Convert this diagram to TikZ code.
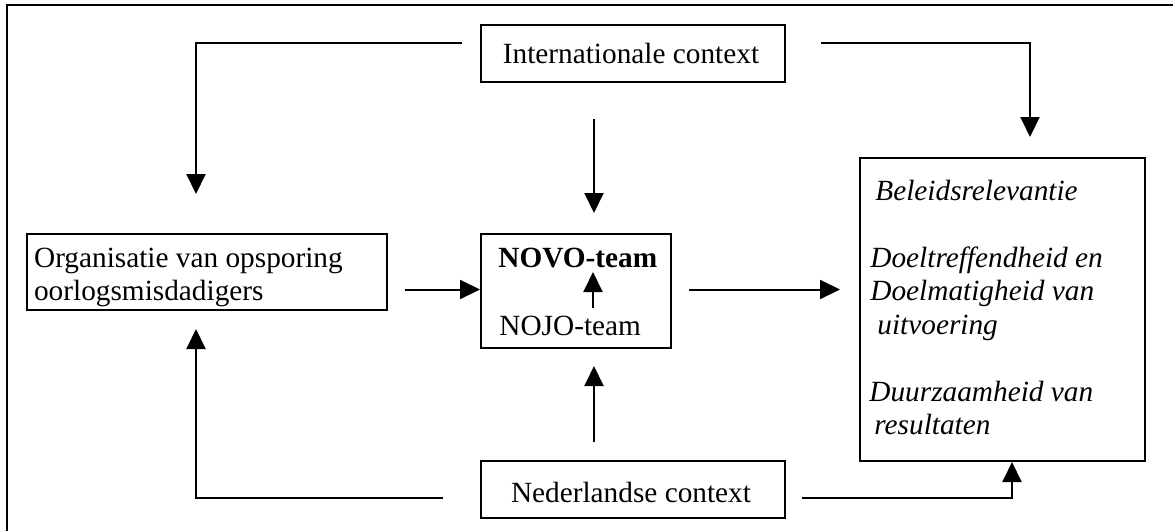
\documentclass[tikz,border=0pt]{standalone}
\usepackage{fontspec}
\setmainfont{Liberation Serif}
\usetikzlibrary{arrows.meta}
\begin{document}
\begin{tikzpicture}[x=0.5pt,y=-0.5pt,
  box/.style={draw, line width=1pt, inner sep=0pt, anchor=north west},
  txt/.style={inner sep=0pt, font=\fontsize{14.65pt}{16.75pt}\selectfont},
  arr/.style={line width=1pt, -{Triangle[length=10pt,width=9.5pt]}},
  ln/.style={line width=1pt}]
\useasboundingbox (0,0) rectangle (1173,531);
\fill[white] (0,0) rectangle (1173,531);
\draw[ln] (6.5,531) -- (6.5,5) -- (1173,5);

% boxes
\node[box, minimum width=152pt, minimum height=28.5pt] (int) at (480,24) {};
\node[box, minimum width=180.2pt, minimum height=38pt] (org) at (25.6,233) {};
\node[box, minimum width=95pt, minimum height=57pt] (novo) at (480,233) {};
\node[box, minimum width=152pt, minimum height=28.5pt] (ned) at (480,460) {};
\node[box, minimum width=142.5pt, minimum height=151.5pt] (res) at (859,157) {};

% texts
\node[txt, anchor=base] (tint) at (631,63) {Internationale context};
\node[txt, anchor=base] (tned) at (631,502) {Nederlandse context};
\node[txt, anchor=base west] (torg1) at (33.7,267) {Organisatie van opsporing};
\node[txt, anchor=base west] (torg2) at (33.7,300.5) {oorlogsmisdadigers};
\node[txt, anchor=base west, font=\fontsize{14.65pt}{16.75pt}\selectfont\bfseries] (tnovo) at (498,267) {NOVO-team};
\node[txt, anchor=base west] (tnojo) at (499,335) {NOJO-team};
\node[txt, anchor=base west, font=\fontsize{14.65pt}{16.75pt}\selectfont\itshape] (r1) at (875,200) {Beleidsrelevantie};
\node[txt, anchor=base west, font=\fontsize{14.65pt}{16.75pt}\selectfont\itshape] (r2) at (870,267) {Doeltreffendheid en};
\node[txt, anchor=base west, font=\fontsize{14.65pt}{16.75pt}\selectfont\itshape] (r3) at (870,300.5) {Doelmatigheid van};
\node[txt, anchor=base west, font=\fontsize{14.65pt}{16.75pt}\selectfont\itshape] (r4) at (877,334) {uitvoering};
\node[txt, anchor=base west, font=\fontsize{14.65pt}{16.75pt}\selectfont\itshape] (r5) at (869,401) {Duurzaamheid van};
\node[txt, anchor=base west, font=\fontsize{14.65pt}{16.75pt}\selectfont\itshape] (r6) at (874,434.5) {resultaten};

% connector end points
\coordinate (i1) at (462,43);   \coordinate (i1e) at (196,194);
\coordinate (i2) at (594,119);  \coordinate (i2e) at (594,213);
\coordinate (i3) at (821,43);   \coordinate (i3e) at (1030,137);
\coordinate (o1) at (404.5,289.5);
\coordinate (n1) at (689,289.5); \coordinate (n1e) at (840,289.5);
\coordinate (j1) at (593,308);  \coordinate (j1e) at (593,272);
\coordinate (d1) at (594,442);  \coordinate (d1e) at (594,366);
\coordinate (d2) at (443,498);  \coordinate (d2e) at (196,329);
\coordinate (d3) at (802,498);  \coordinate (d3c) at (1012,498);

% connectors
\draw[arr] (i1) -| (i1e);
\draw[arr] (i2) -- (i2e);
\draw[arr] (i3) -| (i3e);
\draw[arr] (o1) -- (o1 -| novo.west);
\draw[arr] (n1) -- (n1e);
\draw[arr] (j1) -- (j1e);
\draw[arr] (d1) -- (d1e);
\draw[arr] (d2) -| (d2e);
\draw[arr] (d3) -- (d3c) -- (d3c |- res.south);
\end{tikzpicture}
\end{document}
